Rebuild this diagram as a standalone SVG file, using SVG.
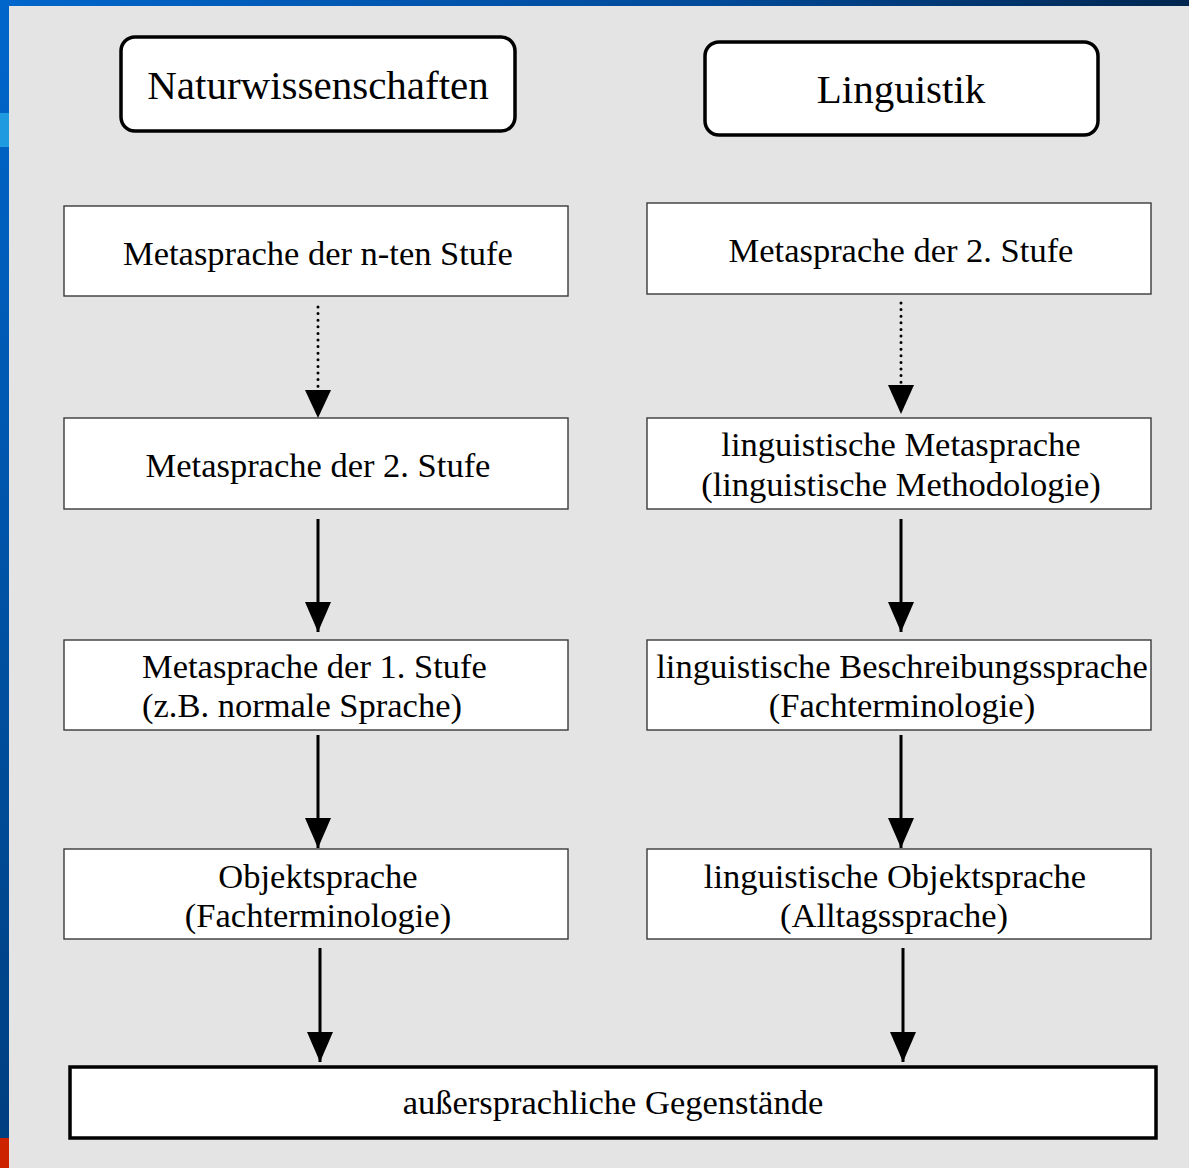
<svg xmlns="http://www.w3.org/2000/svg" width="1189" height="1168" viewBox="0 0 1189 1168">
<defs>
<linearGradient id="topbar" x1="0" y1="0" x2="1" y2="0">
<stop offset="0" stop-color="#0066cc"/>
<stop offset="0.6" stop-color="#004a99"/>
<stop offset="1" stop-color="#00264f"/>
</linearGradient>
<linearGradient id="sidebar" x1="0" y1="0" x2="0" y2="1">
<stop offset="0" stop-color="#0066cc"/>
<stop offset="1" stop-color="#003f80"/>
</linearGradient>
<marker id="ah" viewBox="0 0 30 26" refX="30" refY="13" markerWidth="30" markerHeight="26" markerUnits="userSpaceOnUse" orient="auto">
<path d="M0,0 L30,13 L0,26 Z" fill="#000"/>
</marker>
<style>
.title{fill:#fff;stroke:#000;stroke-width:3.5}
.box{fill:#fff;stroke:#3a3a3a;stroke-width:1.4}
.big{fill:#fff;stroke:#000;stroke-width:3.5}
text{font-family:"Liberation Serif","Times New Roman",serif;fill:#000;font-size:34.5px;text-anchor:middle}
.tt{font-size:41px}
.solid{stroke:#000;stroke-width:3;fill:none}
.dot{stroke:#000;stroke-width:3;fill:none;stroke-linecap:round;stroke-dasharray:0 6.6}
</style>
</defs>
<rect x="0" y="0" width="1189" height="1168" fill="#e4e4e4"/>
<rect x="0" y="0" width="1189" height="6" fill="url(#topbar)"/>
<rect x="0" y="0" width="9" height="1138" fill="url(#sidebar)"/>
<rect x="0" y="113" width="9" height="34" fill="#1e9ae0"/>
<rect x="0" y="1138" width="9" height="30" fill="#cc2200"/>

<g id="n-natur"><rect class="title" x="121" y="37" width="394" height="94" rx="14"/><text class="tt" x="318" y="99">Naturwissenschaften</text></g>
<g id="n-ling"><rect class="title" x="705" y="42" width="393" height="93" rx="14"/><text class="tt" x="901" y="103">Linguistik</text></g>

<g id="n-l1"><rect class="box" x="64" y="206" width="504" height="90"/><text x="318" y="265">Metasprache der n-ten Stufe</text></g>
<g id="n-r1"><rect class="box" x="647" y="203" width="504" height="91"/><text x="901" y="262">Metasprache der 2. Stufe</text></g>

<g id="n-l2"><rect class="box" x="64" y="418" width="504" height="91"/><text x="318" y="477">Metasprache der 2. Stufe</text></g>
<g id="n-r2"><rect class="box" x="647" y="418" width="504" height="91"/><text x="901" y="456">linguistische Metasprache</text><text x="901" y="496">(linguistische Methodologie)</text></g>

<g id="n-l3"><rect class="box" x="64" y="640" width="504" height="90"/><text x="142" y="678" style="text-anchor:start">Metasprache der 1. Stufe</text><text x="142" y="717" style="text-anchor:start">(z.B. normale Sprache)</text></g>
<g id="n-r3"><rect class="box" x="647" y="640" width="504" height="90"/><text x="902" y="678">linguistische Beschreibungssprache</text><text x="902" y="717">(Fachterminologie)</text></g>

<g id="n-l4"><rect class="box" x="64" y="849" width="504" height="90"/><text x="318" y="888">Objektsprache</text><text x="318" y="927">(Fachterminologie)</text></g>
<g id="n-r4"><rect class="box" x="647" y="849" width="504" height="90"/><text x="895" y="888">linguistische Objektsprache</text><text x="894" y="927">(Alltagssprache)</text></g>

<g id="n-bottom"><rect class="big" x="70" y="1067" width="1086" height="71"/><text x="613" y="1114">außersprachliche Gegenstände</text></g>

<g id="connectors">
<line class="dot" x1="318" y1="307" x2="318" y2="392"/>
<path d="M305,390 L331,390 L318,418 Z" fill="#000"/>
<line class="dot" x1="901" y1="303" x2="901" y2="388"/>
<path d="M888,385 L914,385 L901,414 Z" fill="#000"/>
<line class="solid" x1="318" y1="519" x2="318" y2="632" marker-end="url(#ah)"/>
<line class="solid" x1="901" y1="519" x2="901" y2="632" marker-end="url(#ah)"/>
<line class="solid" x1="318" y1="735" x2="318" y2="848" marker-end="url(#ah)"/>
<line class="solid" x1="901" y1="735" x2="901" y2="848" marker-end="url(#ah)"/>
<line class="solid" x1="320" y1="948" x2="320" y2="1062" marker-end="url(#ah)"/>
<line class="solid" x1="903" y1="948" x2="903" y2="1062" marker-end="url(#ah)"/>
</g>
</svg>
